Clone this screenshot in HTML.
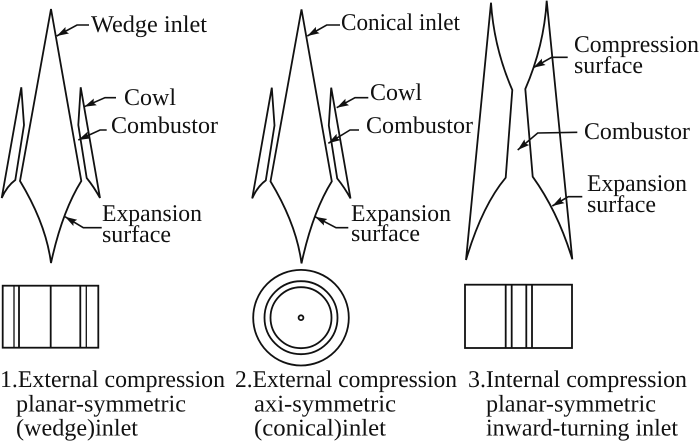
<!DOCTYPE html>
<html><head><meta charset="utf-8"><style>
html,body{margin:0;padding:0;background:#fff}
svg{display:block}
text{font-family:"Liberation Serif",serif;font-size:24px;fill:#111;text-rendering:geometricPrecision}
.s{fill:none;stroke:#111;stroke-width:1.8;stroke-linejoin:miter}
.a{fill:none;stroke:#111;stroke-width:1.6;marker-end:url(#h)}
.t{stroke-width:1.3}
</style></head><body>
<svg width="700" height="441" viewBox="0 0 700 441" xmlns="http://www.w3.org/2000/svg">
<defs>
<marker id="h" markerUnits="userSpaceOnUse" markerWidth="13" markerHeight="9" refX="12" refY="4.5" orient="auto">
<path d="M0,0.8 L12,4.5 L0,8.2 L2,4.5 Z" fill="#111"/>
</marker>
<g id="d">
<path class="s" d="M51,9 L81.3,181 Q62,212 51,263 Q46,224 20,181 Z"/>
<path class="s" d="M21.3,87.3 L24,125 L15.3,180 Q7,186 1.7,198 Z"/>
<path class="s" d="M80.7,87.3 L100,198 Q94,187 86.7,178 L78.3,125 Z"/>
</g>
</defs>
<use href="#d"/>
<use href="#d" x="250.5" y="0.4"/>
<path class="s" d="M491,2.7 Q494,48 512.3,90 L505.7,177.7 Q482,206 466,260 Z"/>
<path class="s" d="M546.7,0.7 L572.3,259.3 Q558,212 532.7,176.7 L525.3,89 Q544,46 546.7,0.7 Z"/>

<path class="a" d="M89,25 L77,25 L56.7,36"/>
<path class="a" d="M116,97.7 L105,97.7 L84.3,106.7"/>
<path class="a" d="M106.7,130 L100,130 L78.3,140"/>
<path class="a" d="M101.7,227.7 L83.3,227.7 L65,216.7"/>
<path class="a" d="M340,25 L326.7,25 L307.3,36"/>
<path class="a" d="M368.3,97.7 L355,97.7 L336.7,107.7"/>
<path class="a" d="M359,130 L350,130 L328.3,143.3"/>
<path class="a" d="M348.3,227.7 L336,227.7 L315,216.7"/>
<path class="a" d="M567.7,57.3 L551.7,57.3 L533.3,67.7"/>
<path class="a" d="M577.3,132.3 L537.7,133 L517.7,150"/>
<path class="a" d="M582.3,196.7 L568.3,196.7 L552.3,206"/>

<rect class="s" x="2.7" y="285.7" width="95.6" height="62"/>
<path class="s t" d="M14,285.7V347.7M86.3,285.7V347.7"/>
<path class="s" d="M19,285.7V347.7M50.7,285.7V347.7M80.3,285.7V347.7"/>
<circle class="s" cx="301" cy="317.7" r="47.8"/>
<circle class="s" cx="301" cy="317.7" r="36.5"/>
<circle class="s" cx="301" cy="317.7" r="30.5"/>
<circle class="s" cx="301" cy="317.7" r="2.4"/>
<rect class="s" x="465" y="284.7" width="107" height="63.3"/>
<path class="s" d="M505.7,284.7V348M511.7,284.7V348M526.3,284.7V348M532,284.7V348"/>

<text x="91" y="32" textLength="116" lengthAdjust="spacingAndGlyphs">Wedge inlet</text>
<text x="124" y="105" textLength="52" lengthAdjust="spacingAndGlyphs">Cowl</text>
<text x="111" y="133" textLength="107" lengthAdjust="spacingAndGlyphs">Combustor</text>
<text x="102" y="221" textLength="100" lengthAdjust="spacingAndGlyphs">Expansion</text>
<text x="102" y="242" textLength="69" lengthAdjust="spacingAndGlyphs">surface</text>
<text x="341" y="30" textLength="119" lengthAdjust="spacingAndGlyphs">Conical inlet</text>
<text x="370" y="100" textLength="52" lengthAdjust="spacingAndGlyphs">Cowl</text>
<text x="366" y="133" textLength="107" lengthAdjust="spacingAndGlyphs">Combustor</text>
<text x="351" y="221" textLength="100" lengthAdjust="spacingAndGlyphs">Expansion</text>
<text x="351" y="241" textLength="69" lengthAdjust="spacingAndGlyphs">surface</text>
<text x="574" y="52" textLength="125" lengthAdjust="spacingAndGlyphs">Compression</text>
<text x="574" y="73" textLength="69" lengthAdjust="spacingAndGlyphs">surface</text>
<text x="584" y="139" textLength="106" lengthAdjust="spacingAndGlyphs">Combustor</text>
<text x="587" y="191" textLength="100" lengthAdjust="spacingAndGlyphs">Expansion</text>
<text x="587" y="212" textLength="69" lengthAdjust="spacingAndGlyphs">surface</text>

<text x="0" y="387" textLength="225" lengthAdjust="spacingAndGlyphs">1.External compression</text>
<text x="16" y="411.5" textLength="170" lengthAdjust="spacingAndGlyphs">planar-symmetric</text>
<text x="16" y="435.5" textLength="122" lengthAdjust="spacingAndGlyphs">(wedge)inlet</text>
<text x="235" y="387" textLength="222" lengthAdjust="spacingAndGlyphs">2.External compression</text>
<text x="254" y="411.5" textLength="142" lengthAdjust="spacingAndGlyphs">axi-symmetric</text>
<text x="254" y="435.5" textLength="132" lengthAdjust="spacingAndGlyphs">(conical)inlet</text>
<text x="468" y="387" textLength="219" lengthAdjust="spacingAndGlyphs">3.Internal compression</text>
<text x="486" y="411.5" textLength="170" lengthAdjust="spacingAndGlyphs">planar-symmetric</text>
<text x="486" y="435.5" textLength="192" lengthAdjust="spacingAndGlyphs">inward-turning inlet</text>
</svg>
</body></html>
